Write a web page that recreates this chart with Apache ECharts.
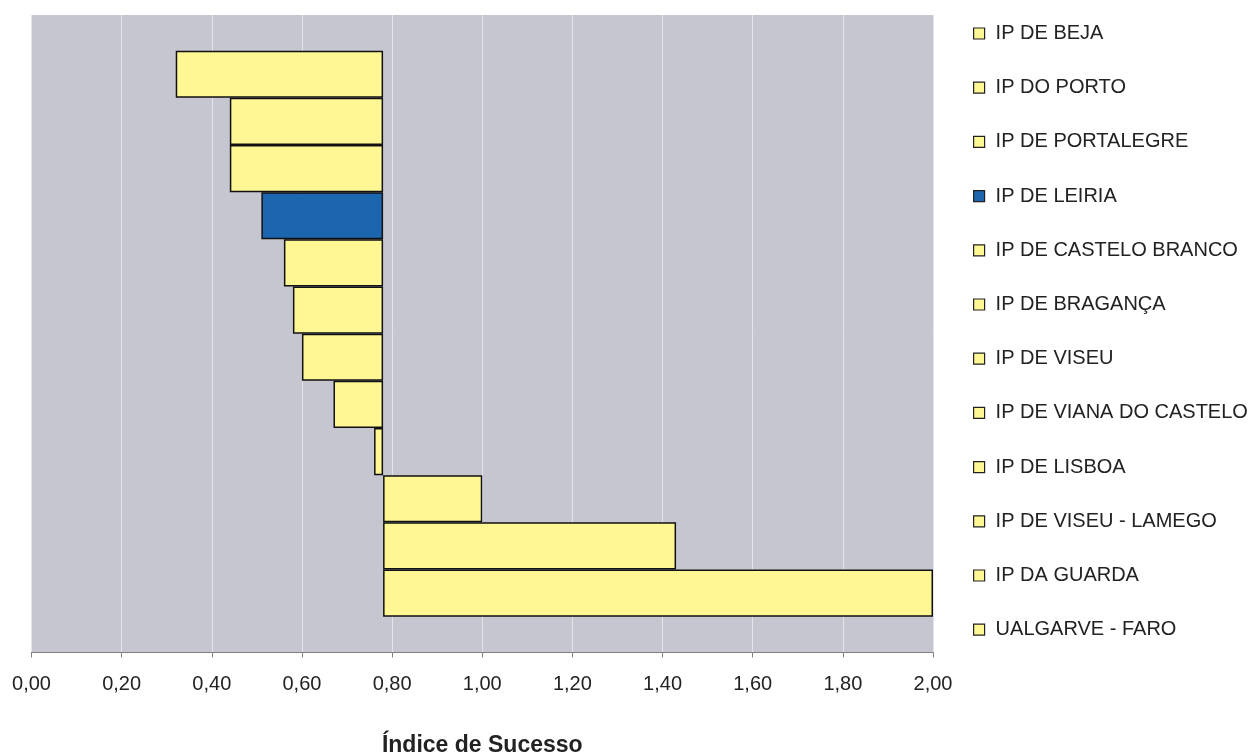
<!DOCTYPE html>
<html>
<head>
<meta charset="utf-8">
<title>Índice de Sucesso</title>
<script src="https://cdn.jsdelivr.net/npm/echarts@6/dist/echarts.min.js"></script>
<style>
  html, body { margin: 0; padding: 0; background: #ffffff; }
  #chart { width: 1256px; height: 755px; }
</style>
</head>
<body>
<div id="chart"></div>
<script>
// Institutions, top to bottom
const categories = [
  'IP DE BEJA',
  'IP DO PORTO',
  'IP DE PORTALEGRE',
  'IP DE LEIRIA',
  'IP DE CASTELO BRANCO',
  'IP DE BRAGANÇA',
  'IP DE VISEU',
  'IP DE VIANA DO CASTELO',
  'IP DE LISBOA',
  'IP DE VISEU - LAMEGO',
  'IP DA GUARDA',
  'UALGARVE - FARO'
];

// Success index per institution
const successIndex = [0.32, 0.44, 0.44, 0.51, 0.56, 0.58, 0.60, 0.67, 0.76, 1.00, 1.43, 2.00];

// Reference value the bars grow from
const baseline = 0.78;

// Highlighted institution
const highlighted = 'IP DE LEIRIA';

// Value axis ticks
const axisMin = 0;
const axisMax = 2;
const axisStep = 0.2;

const yellow = '#fff794';
const blue = '#1c66b0';

const fmt = v => v.toFixed(2).replace('.', ',');

// Invisible offset: each bar starts at the smaller of value and baseline
const offsetSeries = {
  name: '_offset',
  type: 'bar',
  stack: 'idx',
  xAxisIndex: 1,
  yAxisIndex: 1,
  barWidth: '100%',
  barCategoryGap: '0%',
  itemStyle: { color: 'transparent', borderWidth: 0 },
  emphasis: { disabled: true },
  silent: true,
  data: successIndex.map(v => Math.min(v, baseline))
};

// One series per institution so each appears in the legend
const barSeries = categories.map((name, i) => ({
  name: name,
  type: 'bar',
  stack: 'idx',
  xAxisIndex: 1,
  yAxisIndex: 1,
  barWidth: '100%',
  barCategoryGap: '0%',
  itemStyle: {
    color: name === highlighted ? blue : yellow,
    borderColor: '#111111',
    borderWidth: 1.5
  },
  emphasis: { disabled: true },
  data: categories.map((c, j) => j === i ? +Math.abs(successIndex[i] - baseline).toFixed(4) : '-')
}));

const chart = echarts.init(document.getElementById('chart'), null, { renderer: 'canvas' });

chart.setOption({
  animation: false,
  backgroundColor: '#ffffff',
  textStyle: { fontFamily: '"Liberation Sans", Arial, sans-serif' },
  grid: [
    {
      left: 31.5, right: 323, top: 15, bottom: 102.5,
      outerBoundsMode: 'none', containLabel: false,
      show: true, backgroundColor: '#c5c6cf', borderWidth: 0
    },
    {
      left: 31.5, right: 323, top: 50.7, height: 566,
      outerBoundsMode: 'none', containLabel: false
    }
  ],
  xAxis: [
    {
      gridIndex: 0,
      type: 'value',
      min: axisMin, max: axisMax, interval: axisStep,
      name: 'Índice de Sucesso',
      nameLocation: 'middle',
      nameGap: 82,
      nameTextStyle: {
        fontSize: 23, fontWeight: 'bold', color: '#222222',
        fontFamily: '"Liberation Sans", Arial, sans-serif'
      },
      axisLine: { show: true, lineStyle: { color: '#808080', width: 1.2 } },
      axisTick: { show: true, length: 5, lineStyle: { color: '#808080', width: 1 } },
      axisLabel: {
        formatter: fmt, fontSize: 20, color: '#222222', margin: 22,
        fontFamily: '"Liberation Sans", Arial, sans-serif'
      },
      splitLine: { show: true, lineStyle: { color: '#e4e5ea', width: 1 } }
    },
    {
      gridIndex: 1,
      type: 'value',
      min: axisMin, max: axisMax,
      show: false,
      splitLine: { show: false }
    }
  ],
  yAxis: [
    {
      gridIndex: 0,
      type: 'value',
      show: false,
      splitLine: { show: false }
    },
    {
      gridIndex: 1,
      type: 'category',
      inverse: true,
      data: categories,
      show: false
    }
  ],
  legend: {
    orient: 'vertical',
    left: 973,
    top: 22,
    padding: 0,
    data: categories,
    icon: 'rect',
    itemWidth: 11,
    itemHeight: 11,
    itemGap: 31.2,
    selectedMode: false,
    itemStyle: { borderColor: '#222222', borderWidth: 1.2 },
    textStyle: {
      fontSize: 20, color: '#222222', lineHeight: 23,
      padding: [0, 0, 0, 6],
      fontFamily: '"Liberation Sans", Arial, sans-serif'
    }
  },
  series: [offsetSeries].concat(barSeries)
});
</script>
</body>
</html>
